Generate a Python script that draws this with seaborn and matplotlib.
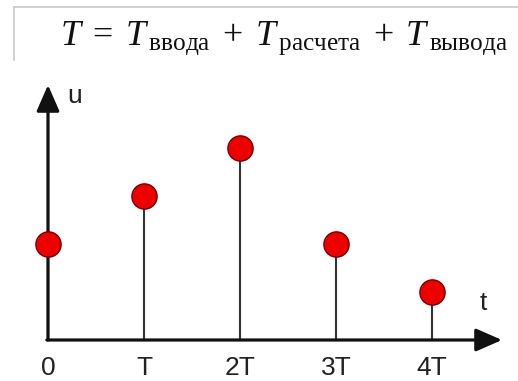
import matplotlib
matplotlib.use("Agg")
import matplotlib.pyplot as plt
from matplotlib.lines import Line2D
import seaborn as sns
import pandas as pd

# Sampled signal: value of u at each sampling instant
tick_labels = ["0", "T", "2T", "3T", "4T"]
positions = [0, 1, 2, 3, 4]
values = [2, 3, 4, 2, 1]

sns.set_style("white")
plt.rcParams["font.family"] = ["Liberation Sans", "DejaVu Sans"]
plt.rcParams["mathtext.fontset"] = "custom"
plt.rcParams["mathtext.rm"] = "Liberation Serif"
plt.rcParams["mathtext.it"] = "Liberation Serif:italic"

W, H = 518, 381
fig = plt.figure(figsize=(W / 100, H / 100), dpi=100)
ax = fig.add_axes([0, 0, 1, 1])

# pixel layout: origin at (48, 340), 96 px per T, 48 px per unit of u
x0, y0, sx, sy = 48, 340, 96, 48
ax.set_xlim(-x0 / sx, (W - x0) / sx)
ax.set_ylim(-(H - y0) / sy, y0 / sy)
ax.axis("off")

df = pd.DataFrame({"t": positions, "u": values, "label": tick_labels})

# stems
ax.vlines(df["t"], 0, df["u"], color="#333333", lw=1.5, zorder=2)

# axes with arrows
ax.annotate("", xy=(0, (y0 - 85) / sy), xytext=(0, 0),
            arrowprops=dict(arrowstyle="-|>,head_length=0.8,head_width=0.35",
                            mutation_scale=20, lw=2.3, color="#111111",
                            shrinkA=0, shrinkB=0), zorder=3)
ax.annotate("", xy=((502 - x0) / sx, 0), xytext=(-0.012, 0),
            arrowprops=dict(arrowstyle="-|>,head_length=0.8,head_width=0.35",
                            mutation_scale=20, lw=2.3, color="#111111",
                            shrinkA=0, shrinkB=0), zorder=3)

# sample points
sns.scatterplot(data=df, x="t", y="u", ax=ax, s=330, color="#ee0000",
                edgecolor="#7a0000", linewidth=1.0, zorder=4, legend=False)
ax.set_xlabel("")
ax.set_ylabel("")

# tick labels
for p, lab in zip(df["t"], df["label"]):
    ax.text(p, (y0 - 368) / sy, lab, ha="center", va="center",
            fontsize=19, color="#222222")

ax.text((67 - x0) / sx, (y0 - 96) / sy, "u", ha="left", va="center",
        fontsize=19, color="#222222")
ax.text((483 - x0) / sx, (y0 - 303) / sy, "t", ha="center", va="center",
        fontsize=19, color="#222222")

# formula in a frame
fig.add_artist(Line2D([14 / W, 1], [1 - 7 / H, 1 - 7 / H], color="#c8c8c8", lw=1.2))
fig.add_artist(Line2D([14 / W, 14 / W], [1 - 7 / H, 1 - 60 / H], color="#c8c8c8", lw=1.2))
fig.text(60 / W, 1 - 45 / H,
         r"$T\;=\;T_{\,\mathrm{ввода}}\;+\;T_{\,\mathrm{расчета}}\;+\;T_{\,\mathrm{вывода}}$",
         ha="left", va="baseline", fontsize=26, color="#111111")

fig.savefig("out.png", dpi=100)
